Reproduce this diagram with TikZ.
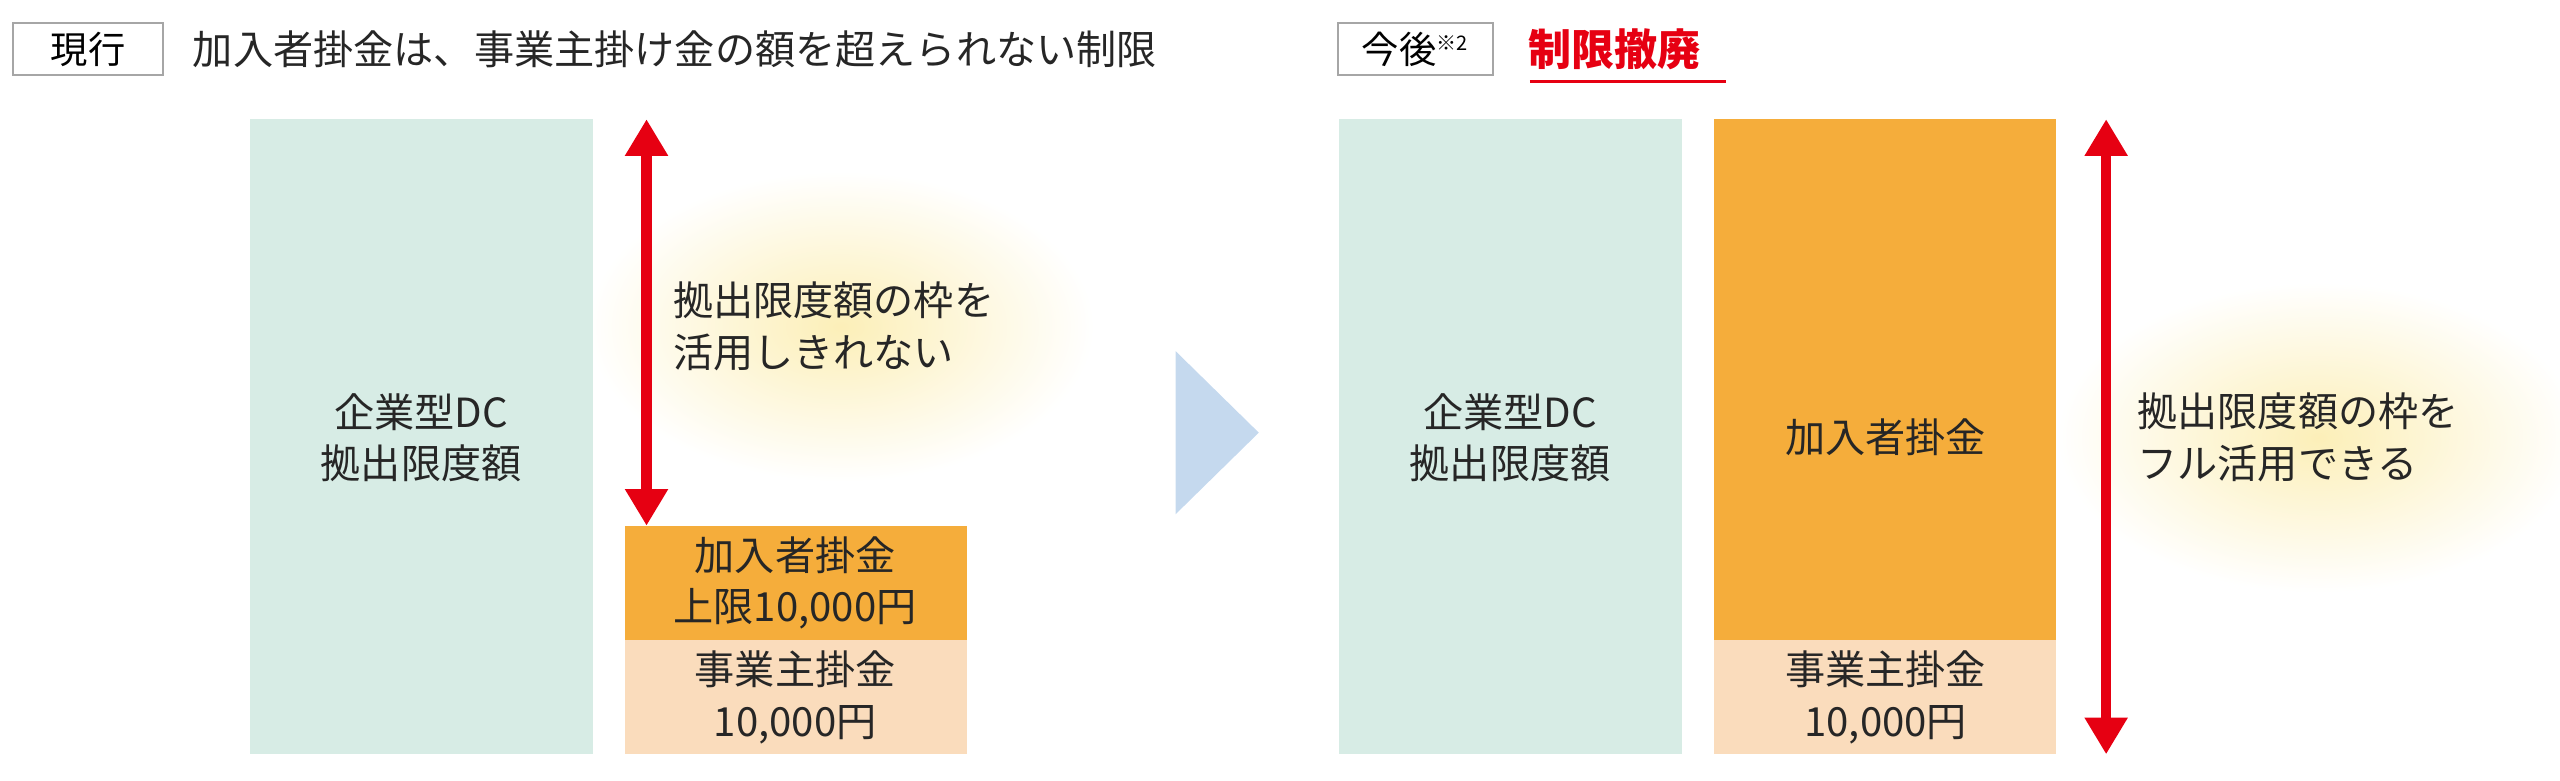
\documentclass[tikz,border=0pt]{standalone}
\usepackage{fontspec}
\setmainfont{Noto Sans CJK JP}
\usetikzlibrary{arrows.meta}
\definecolor{dcgreen}{HTML}{D7ECE5}
\definecolor{kaorange}{HTML}{F5AD3B}
\definecolor{jgpeach}{HTML}{FADCBC}
\definecolor{arrred}{HTML}{E60012}
\definecolor{chevblue}{HTML}{C5D9EE}
\definecolor{glowyel}{HTML}{FCEFB8}
\begin{document}
\begin{tikzpicture}[x=0.02cm, y=-0.02cm,
    txt/.style={font=\fontsize{14}{18}\selectfont, align=center, text=black!85},
    tagbox/.style={draw=black!35, line width=0.6pt, font=\fontsize{13}{15}\selectfont, inner sep=0pt, minimum height=0.64cm},
    redarr/.style={arrred, line width=0.13cm, {Triangle[width=0.5cm,length=0.45cm]}-{Triangle[width=0.5cm,length=0.45cm]}}]
    \useasboundingbox (0,0) rectangle (1568,478);
    % headings
    \node[tagbox, minimum width=1.84cm] (now) at (54,30) {現行};
    \node[txt, anchor=west] (nowtitle) at (112,30) {加入者掛金は、事業主掛け金の額を超えられない制限};
    \node[tagbox, minimum width=1.9cm] (next) at (867,30) {今後\textsuperscript{\fontsize{7}{8}\selectfont ※2}};
    \node[anchor=west, text=arrred, font=\fontsize{15}{17}\selectfont\bfseries] (nexttitle) at (930,30) {制限撤廃};
    \draw[arrred, line width=1.2pt] (937,50) -- (1057,50);
    % glows
    \shade[inner color=glowyel, outer color=white] (515,200) ellipse (155 and 95);
    \shade[inner color=glowyel, outer color=white] (1420,268) ellipse (160 and 95);
    % left side
    \fill[dcgreen] (153,73) rectangle (363,462);
    \node[txt] (dcleft) at (258,268) {企業型DC\\拠出限度額};
    \fill[kaorange] (383,322) rectangle (592,392);
    \node[txt] (kaleft) at (487,357) {加入者掛金\\上限10,000円};
    \fill[jgpeach] (383,392) rectangle (592,462);
    \node[txt] (jgleft) at (487,427) {事業主掛金\\10,000円};
    \coordinate (lt) at (396,73);
    \coordinate (lb) at (396,322);
    \draw[redarr] (lt) -- (lb);
    \node[txt, anchor=west, align=left] (lnote) at (406,200) {拠出限度額の枠を\\活用しきれない};
    % chevron
    \fill[chevblue] (720,215) -- (771,265) -- (720,315) -- cycle;
    % right side
    \fill[dcgreen] (820,73) rectangle (1030,462);
    \node[txt] (dcright) at (925,268) {企業型DC\\拠出限度額};
    \fill[kaorange] (1050,73) rectangle (1259,392);
    \node[txt] (karight) at (1155,268) {加入者掛金};
    \fill[jgpeach] (1050,392) rectangle (1259,462);
    \node[txt] (jgright) at (1155,427) {事業主掛金\\10,000円};
    \coordinate (rt) at (1290,73);
    \coordinate (rb) at (1290,462);
    \draw[redarr] (rt) -- (rb);
    \node[txt, anchor=west, align=left] (rnote) at (1303,268) {拠出限度額の枠を\\フル活用できる};
\end{tikzpicture}
\end{document}
